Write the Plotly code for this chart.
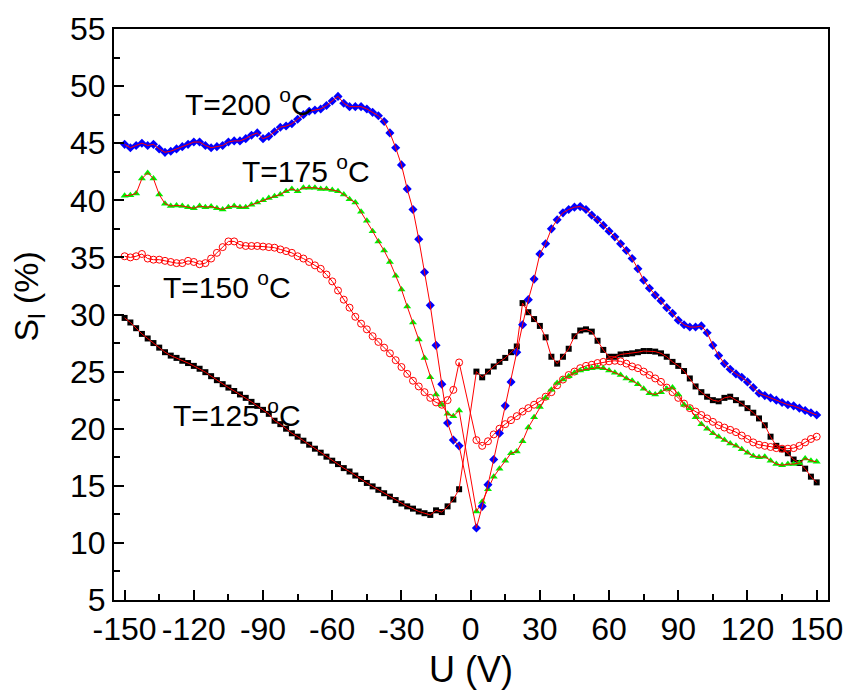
import plotly.graph_objects as go

# ---------------- data ----------------
U = [-150, -147.5, -145, -142.5, -140, -137.5, -135, -132.5, -130, -127.5,
     -125, -122.5, -120, -117.5, -115, -112.5, -110, -107.5, -105, -102.5,
     -100, -97.5, -95, -92.5, -90, -87.5, -85, -82.5, -80, -77.5,
     -75, -72.5, -70, -67.5, -65, -62.5, -60, -57.5, -55, -52.5,
     -50, -47.5, -45, -42.5, -40, -37.5, -35, -32.5, -30, -27.5,
     -25, -22.5, -20, -17.5, -15, -12.5, -10, -7.5, -5,
     2.5, 5, 7.5, 10, 12.5, 15, 17.5, 20, 22.5, 25,
     27.5, 30, 32.5, 35, 37.5, 40, 42.5, 45, 47.5, 50,
     52.5, 55, 57.5, 60, 62.5, 65, 67.5, 70, 72.5, 75,
     77.5, 80, 82.5, 85, 87.5, 90, 92.5, 95, 97.5, 100,
     102.5, 105, 107.5, 110, 112.5, 115, 117.5, 120, 122.5, 125,
     127.5, 130, 132.5, 135, 137.5, 140, 142.5, 145, 147.5, 150]

S_125 = [29.7, 29.3, 28.8, 28.3, 27.9, 27.5, 27.1, 26.7, 26.4, 26.2,
         25.95, 25.75, 25.5, 25.25, 24.95, 24.6, 24.25, 23.9, 23.6, 23.3,
         23.0, 22.7, 22.35, 22.0, 21.65, 21.3, 20.7, 20.4, 20.0, 19.6,
         19.3, 18.95, 18.6, 18.25, 17.9, 17.55, 17.2, 16.9, 16.55, 16.25,
         15.9, 15.6, 15.25, 14.95, 14.65, 14.35, 14.05, 13.75, 13.45, 13.2,
         13.0, 12.75, 12.6, 12.45, 12.85, 12.7, 13.2, 13.8, 14.7,
         25.0, 24.5, 25.0, 25.45, 25.85, 26.2, 26.7, 27.2, 31.0, 30.2,
         29.6, 29.0, 28.0, 26.3, 25.7, 26.3, 27.0, 28.1, 28.6, 28.7,
         28.5, 27.7, 26.9, 26.3, 26.3, 26.5, 26.55, 26.6, 26.7, 26.8,
         26.8, 26.75, 26.6, 26.3, 25.85, 25.5, 25.05, 24.4, 23.7, 23.2,
         22.8, 22.5, 22.4, 22.7, 22.8, 22.5, 22.2, 21.8, 21.4, 20.9,
         20.3, 19.3, 18.5, 18.2, 17.85, 17.3, 17.0, 16.5, 15.8, 15.3]

S_150 = [35.1, 35.0, 35.1, 35.3, 34.9, 34.8, 34.8, 34.7, 34.6, 34.5,
         34.5, 34.7, 34.6, 34.4, 34.5, 34.9, 35.4, 35.9, 36.4, 36.4,
         36.1, 36.0, 36.0, 36.0, 35.95, 35.9, 35.85, 35.7, 35.55, 35.4,
         35.1, 34.9, 34.6, 34.3, 34.0, 33.5, 32.9, 32.1, 31.3, 30.6,
         29.8, 29.2, 28.7, 28.1, 27.6, 27.1, 26.6, 26.0, 25.4, 24.8,
         24.2, 23.7, 23.2, 22.7, 22.3, 22.1, 22.5, 23.4, 25.8,
         19.0, 18.5, 18.9, 19.5, 20.0, 20.4, 20.75, 21.1, 21.5, 21.8,
         22.1, 22.4, 22.8, 23.2, 23.8, 24.3, 24.7, 25.0, 25.3, 25.5,
         25.6, 25.75, 25.85, 25.9, 25.95, 25.9, 25.7, 25.45, 25.3, 25.0,
         24.7, 24.4, 24.1, 23.6, 23.2, 22.7, 22.2, 21.8, 21.5, 21.2,
         20.9, 20.6, 20.3, 20.1, 19.9, 19.7, 19.4, 19.1, 18.8, 18.6,
         18.5, 18.4, 18.3, 18.25, 18.25, 18.3, 18.5, 18.8, 19.1, 19.3]

S_175 = [40.4, 40.45, 40.6, 41.9, 42.4, 41.9, 40.5, 39.7, 39.5, 39.55,
         39.5, 39.4, 39.3, 39.5, 39.4, 39.45, 39.3, 39.2, 39.4, 39.5,
         39.4, 39.4, 39.6, 39.8, 40.0, 40.2, 40.35, 40.5, 40.8, 41.0,
         40.8, 41.1, 41.1, 41.1, 41.0, 41.0, 40.9, 40.8, 40.5, 40.1,
         39.8, 39.0, 38.2, 37.3, 36.4, 35.6, 34.6, 33.4, 32.2, 30.7,
         29.3, 27.8, 26.2, 24.5, 23.0, 22.1, 21.3, 21.1, 21.6,
         12.75, 13.6, 14.7, 15.8, 16.5, 17.2, 17.85, 18.0, 18.9, 20.1,
         21.0, 21.9, 22.7, 23.4, 24.0, 24.3, 24.6, 24.9, 25.1, 25.2,
         25.3, 25.35, 25.3, 25.1, 24.9, 24.7, 24.4, 24.2, 23.9, 23.5,
         23.1, 23.0, 23.2, 23.5, 23.6, 23.0, 22.1, 21.8, 21.0, 20.4,
         20.0, 19.6, 19.3, 19.0, 18.7, 18.5, 18.2, 17.9, 17.6, 17.5,
         17.55, 17.2, 16.9, 16.8, 16.9, 16.9, 17.0, 17.4, 17.2, 17.1]

S_200 = [44.9, 44.6, 44.8, 45.0, 44.8, 44.9, 44.5, 44.2, 44.3, 44.5,
         44.7, 44.9, 45.1, 45.1, 44.8, 44.6, 44.7, 44.8, 45.1, 45.2,
         45.2, 45.4, 45.7, 45.9, 45.4, 45.6, 46.0, 46.4, 46.5, 46.7,
         47.1, 47.5, 47.8, 47.9, 48.0, 48.3, 48.7, 49.1, 48.5, 48.2,
         48.2, 48.2, 48.0, 47.7, 47.4, 46.9, 45.9, 44.6, 43.1, 41.0,
         39.2, 36.6, 33.7, 30.8, 27.3, 23.9, 20.5, 19.0, 18.5,
         11.3, 13.2, 15.1, 17.3, 19.6, 22.0, 24.1, 26.7, 29.1, 31.3,
         33.1, 35.3, 36.2, 37.5, 38.3, 38.9, 39.2, 39.4, 39.45, 39.2,
         38.7, 38.3, 37.8, 37.3, 36.8, 36.2, 35.6, 34.9, 34.0, 33.0,
         32.3, 31.7, 31.2, 30.6, 30.1, 29.5, 29.1, 28.9, 28.9, 29.0,
         28.4, 27.3, 26.4, 25.7, 25.2, 24.8, 24.5, 24.1, 23.6, 23.1,
         22.9, 22.7, 22.5, 22.3, 22.1, 22.0, 21.8, 21.6, 21.4, 21.2]

X_TICKS = [-150, -120, -90, -60, -30, 0, 30, 60, 90, 120, 150]
X_TICK_TEXT = ["-150", "-120", "-90", "-60", "-30", "0", "30", "60", "90", "120", "150"]
Y_TICKS = [5, 10, 15, 20, 25, 30, 35, 40, 45, 50, 55]
Y_TICK_TEXT = ["5", "10", "15", "20", "25", "30", "35", "40", "45", "50", "55"]

LABELS = ["T=200 <sup>o</sup>C", "T=175 <sup>o</sup>C", "T=150 <sup>o</sup>C", "T=125 <sup>o</sup>C"]
LABEL_U = [-124.6, -99.8, -134.2, -129.8]
LABEL_S = [48.6, 42.7, 32.6, 21.4]

FONT = "Liberation Sans, Arial, sans-serif"

series = [
    (S_125, dict(symbol="square", size=6, color="#000000")),
    (S_150, dict(symbol="circle-open", size=7, color="#ff0000", line=dict(width=1, color="#ff0000"))),
    (S_175, dict(symbol="triangle-up", size=7, color="#00ee00")),
    (S_200, dict(symbol="diamond", size=7, color="#0000ff")),
]

fig = go.Figure()
for s, mk in series:
    fig.add_trace(go.Scatter(x=U, y=s, mode="markers", marker=mk, hoverinfo="skip"))
    fig.add_trace(go.Scatter(x=U, y=s, mode="lines", line=dict(color="#ff0000", width=1), hoverinfo="skip"))

for txt, ux, sy in zip(LABELS, LABEL_U, LABEL_S):
    fig.add_annotation(x=ux, y=sy, xref="x", yref="y", text=txt, showarrow=False,
                       xanchor="left", yanchor="middle",
                       font=dict(family=FONT, size=30, color="#000000"))

# y-axis title (placed as rotated text, slightly above the plot centre as in the reference)
fig.add_annotation(x=-0.12, y=0.532, xref="paper", yref="paper", text="S<sub>l</sub> (%)",
                   textangle=-90, showarrow=False, xanchor="center", yanchor="middle",
                   font=dict(family=FONT, size=34, color="#000000"))

axis_common = dict(
    showline=True, linewidth=2, linecolor="#000000", mirror=True,
    ticks="inside", ticklen=10, tickwidth=2, tickcolor="#000000",
    showgrid=False, zeroline=False, automargin=False,
    tickfont=dict(family=FONT, size=32, color="#000000"),
)

fig.update_layout(
    width=844, height=695,
    margin=dict(l=114, r=16, t=29, b=95),
    plot_bgcolor="#ffffff", paper_bgcolor="#ffffff",
    showlegend=False,
    font=dict(family=FONT, color="#000000"),
    xaxis=dict(range=[-154.6, 154.9], tickmode="array", tickvals=X_TICKS, ticktext=X_TICK_TEXT,
               tickangle=0,
               minor=dict(dtick=15, tick0=0, ticks="inside", ticklen=6, tickwidth=2, tickcolor="#000000", showgrid=False),
               title=dict(text="U (V)", font=dict(family=FONT, size=36, color="#000000"), standoff=10),
               **axis_common),
    yaxis=dict(range=[5, 55], tickmode="array", tickvals=Y_TICKS, ticktext=Y_TICK_TEXT,
               minor=dict(dtick=2.5, tick0=0, ticks="inside", ticklen=6, tickwidth=2, tickcolor="#000000", showgrid=False),
               **axis_common),
)

fig.write_html("out.html")
